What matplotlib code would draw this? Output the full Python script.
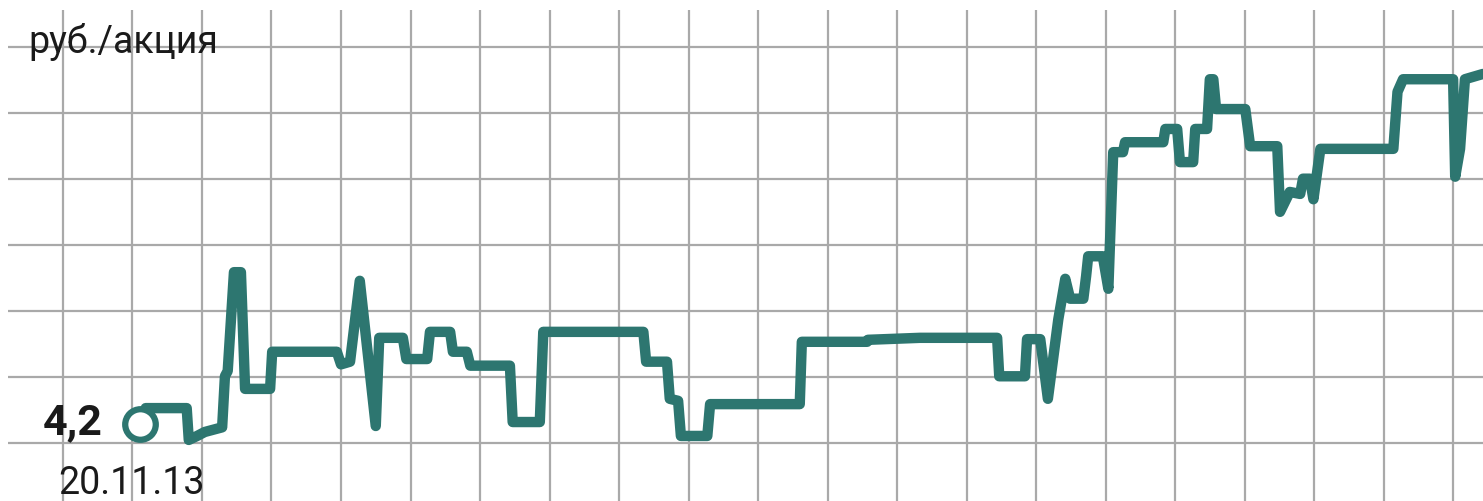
import matplotlib
matplotlib.use("Agg")
import matplotlib.pyplot as plt
import numpy as np

# share price, rub per share, by trading session (start 20.11.13)
session = [11.1, 11.9, 17.8, 18.1, 19.3, 20.4, 22.9, 23.3, 23.7, 24.6, 25.6, 26.2,
           29.8, 30.1, 39.4, 40.0, 41.3, 42.7, 45.0, 45.5, 48.9, 49.4, 52.4, 52.8,
           55.7, 56.1, 58.1, 58.6, 64.3, 64.7, 68.6, 69.1, 83.5, 83.9, 86.9, 87.3,
           88.5, 88.9, 92.7, 93.1, 106.0, 106.3, 115.7, 115.8, 123.3, 134.4, 134.7,
           138.4, 138.7, 140.6, 141.7, 143.2, 144.2, 144.9, 146.8, 147.2, 147.5,
           149.6, 150.4, 151.1, 152.5, 152.8, 158.3, 158.6, 160.3, 160.7, 162.6,
           162.9, 164.6, 165.0, 165.5, 165.9, 170.1, 170.8, 174.7, 175.1, 176.5,
           178.0, 178.4, 179.4, 179.9, 180.9, 191.4, 192.0, 192.8, 200.0, 200.3,
           201.0, 201.7, 204.3]
price = [4.200, 4.224, 4.224, 4.176, 4.182, 4.188, 4.195, 4.272, 4.280, 4.429, 4.429, 4.253,
         4.253, 4.309, 4.309, 4.290, 4.294, 4.416, 4.197, 4.330, 4.330, 4.298, 4.298, 4.339,
         4.339, 4.309, 4.309, 4.288, 4.288, 4.203, 4.203, 4.339, 4.339, 4.294, 4.294, 4.238,
         4.235, 4.182, 4.182, 4.230, 4.230, 4.324, 4.324, 4.327, 4.330, 4.330, 4.272,
         4.272, 4.328, 4.328, 4.238, 4.358, 4.419, 4.389, 4.389, 4.423, 4.453,
         4.453, 4.404, 4.610, 4.610, 4.625, 4.625, 4.645, 4.645, 4.595, 4.595,
         4.645, 4.645, 4.720, 4.720, 4.675, 4.675, 4.619, 4.619, 4.520, 4.550,
         4.547, 4.570, 4.570, 4.539, 4.615, 4.615, 4.701, 4.720, 4.720, 4.573,
         4.615, 4.720, 4.728]

start_value = "4,2"
start_date = "20.11.13"
unit_label = "руб./акция"

teal = "#2d7670"
grid_col = "#a9a9a9"

plt.rcParams['font.family'] = ['Roboto', 'DejaVu Sans']

fig = plt.figure(figsize=(14.83, 5.02), dpi=100)
ax = fig.add_axes([0, 0, 1, 1])
ax.set_xlim(-9.06, 204.3)
ax.set_ylim(4.0839, 4.841)
ax.axis('off')

# grid paper
ax.vlines(np.arange(0, 210, 10), 4.0839, 4.8244, color=grid_col, lw=1.6, zorder=1)
ax.hlines(np.arange(4.1713, 4.80, 0.0995), -7.9, 204.3, color=grid_col, lw=1.6, zorder=1)

ax.plot(session, price, color=teal, lw=7.5, solid_joinstyle='round',
        solid_capstyle='round', zorder=3)
ax.plot(session[0], price[0], 'o', ms=22, mfc='white', mec=teal, mew=4.5, zorder=4)

ax.annotate(start_value, (session[0], price[0]), xytext=(-27, -6.5),
            textcoords='offset points', ha='right', va='baseline',
            fontsize=31, fontweight='bold', color='#1a1a1a')
ax.annotate(start_date, (session[0], price[0]), xytext=(-59, -50),
            textcoords='offset points', ha='left', va='baseline',
            fontsize=27, color='#1a1a1a')
fig.text(28 / 1483, 1 - 53 / 502, unit_label, ha='left', va='baseline',
         fontsize=27, color='#1a1a1a')

fig.savefig('out.png', dpi=100)
